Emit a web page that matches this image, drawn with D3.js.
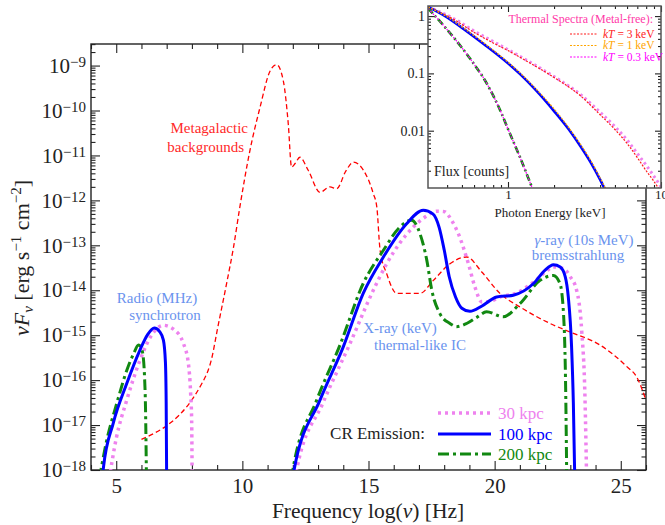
<!DOCTYPE html>
<html>
<head>
<meta charset="utf-8">
<script src="https://cdn.jsdelivr.net/npm/d3@7"></script>
<style>
  body { margin: 0; background: #fff; }
  svg { font-family: "Liberation Serif", "DejaVu Serif", serif; }
  .axis text { fill: #222; }
  .axis line { stroke: #222; }
</style>
</head>
<body>
<div id="chart"></div>
<script>
// ---- data (frequency in log10 Hz, flux as log10 nuF_nu) ----
const backgroundCurve = [[6.0,-17.32],[8.4,-16.07],[8.8,-15.48],[9.0,-14.9],[9.4,-13.78],[9.65,-13.04],[9.9,-12.15],
  [10.3,-10.89],[10.7,-9.93],[11.1,-9.12],[11.36,-8.98],[11.62,-9.33],[11.82,-10.3],[11.95,-11.26],[12.09,-11.18],
  [12.28,-11.04],[12.61,-11.33],[13.08,-11.82],[13.47,-11.7],[13.74,-11.74],[14.1,-11.35],[14.4,-11.15],[14.8,-11.33],
  [15.19,-11.85],[15.33,-12.15],[15.46,-13.11],[15.72,-13.63],[16.12,-14.07],[16.51,-14.07],[17.04,-14.07],
  [17.57,-13.78],[18.23,-13.41],[18.89,-13.26],[19.5,-13.6],[20.21,-14.07],[21.0,-14.37],[22.2,-14.74],
  [22.99,-14.93],[24.18,-15.22],[25.24,-15.7],[25.63,-15.93],[26.0,-16.45]];

const cr30Radio = [[4.72,-18.2],[5.0,-17.3],[5.42,-16.44],[5.94,-15.56],[6.4,-15.0],[6.87,-14.78],[7.3,-14.88],
  [7.66,-15.18],[7.86,-15.63],[7.95,-16.3],[7.99,-16.9],[8.01,-18.3]];
const cr100Radio = [[4.45,-18.2],[4.49,-17.96],[4.88,-16.96],[5.42,-16.07],[5.94,-15.33],[6.25,-14.98],[6.51,-14.84],
  [6.72,-14.92],[6.87,-15.11],[6.95,-15.6],[6.98,-16.5],[7.0,-18.3]];
const cr200Radio = [[4.33,-18.2],[4.6,-17.4],[5.02,-16.52],[5.42,-15.78],[5.7,-15.4],[5.88,-15.22],[6.0,-15.3],
  [6.07,-15.48],[6.12,-15.9],[6.16,-16.6],[6.2,-18.3]];

const cr30High = [[12.1,-18.2],[12.15,-18.0],[13.2,-16.5],[14.27,-15.18],[15.19,-14.0],[15.72,-13.41],[16.78,-12.59],
  [17.3,-12.35],[17.7,-12.24],[18.0,-12.25],[18.3,-12.45],[18.56,-12.74],[18.96,-13.41],[19.22,-13.93],[19.49,-14.26],
  [19.8,-14.25],[20.21,-14.15],[20.87,-14.06],[21.54,-13.82],[22.0,-13.6],[22.33,-13.48],[22.73,-13.52],[23.0,-13.7],
  [23.25,-14.0],[23.45,-14.89],[23.58,-16.37],[23.65,-18.3]];
const cr100High = [[12.0,-18.2],[12.05,-18.0],[13.08,-16.44],[14.0,-15.26],[14.79,-14.07],[15.59,-13.26],[16.51,-12.52],
  [17.17,-12.22],[17.55,-12.3],[17.8,-12.6],[18.0,-13.1],[18.2,-13.7],[18.45,-14.15],[18.7,-14.4],[19.02,-14.47],
  [19.5,-14.35],[20.08,-14.15],[20.74,-14.11],[21.54,-13.85],[22.0,-13.55],[22.33,-13.43],[22.6,-13.48],[22.8,-13.7],
  [22.92,-14.15],[23.05,-15.26],[23.12,-16.5],[23.18,-18.3]];
const cr200High = [[11.95,-18.2],[12.0,-18.0],[12.95,-16.44],[13.87,-15.22],[14.79,-13.85],[15.59,-13.11],[16.25,-12.59],
  [16.71,-12.44],[17.04,-12.74],[17.31,-13.33],[17.51,-14.0],[17.83,-14.52],[18.23,-14.74],[18.49,-14.81],[18.89,-14.74],
  [19.3,-14.6],[19.68,-14.48],[20.34,-14.59],[21.0,-14.3],[21.8,-13.78],[22.33,-13.67],[22.59,-13.85],[22.73,-14.52],
  [22.82,-16.37],[22.86,-18.3]];

const xMajorTicks = [5, 10, 15, 20, 25];
const yDecades = [-18, -17, -16, -15, -14, -13, -12, -11, -10, -9];

const legendLabels = ["30 kpc", "100 kpc", "200 kpc"];

// inset: photon energy [keV] vs counts
const thermal3keV = [[0.3,1.45],[0.45,0.85],[0.6,0.52],[0.8,0.34],[1.0,0.25],[1.5,0.135],[2.0,0.085],[3.0,0.04],
  [4.0,0.019],[5.0,0.0105],[6.0,0.006],[7.0,0.0034],[8.0,0.002],[9.0,0.0013],[10.0,0.00085]];
const thermal1keV = [[0.3,1.45],[0.4,0.97],[0.52,0.6],[0.7,0.335],[1.0,0.157],[1.2,0.102],[1.5,0.056],[2.0,0.024],
  [2.5,0.0112],[3.0,0.0056],[3.5,0.0029],[4.0,0.0015],[4.4,0.00092]];
const thermal03keV = [[0.3,1.37],[0.4,0.58],[0.5,0.28],[0.6,0.145],[0.7,0.079],[0.82,0.036],[0.9,0.021],[1.0,0.0107],
  [1.2,0.0034],[1.45,0.00095]];
const cr30Counts = [[0.3,1.45],[0.45,0.88],[0.6,0.55],[0.8,0.36],[1.0,0.26],[1.5,0.14],[2.0,0.088],[3.0,0.042],
  [4.0,0.021],[5.0,0.0118],[6.0,0.0069],[7.0,0.004],[8.0,0.0025],[9.0,0.0016],[10.0,0.00105]];
const cr100Counts = [[0.3,1.45],[0.4,0.95],[0.52,0.58],[0.7,0.32],[1.0,0.15],[1.2,0.097],[1.5,0.053],[2.0,0.022],
  [2.5,0.0105],[3.0,0.0052],[3.5,0.0027],[4.0,0.0014],[4.3,0.00095]];
const cr200Counts = [[0.3,1.37],[0.4,0.58],[0.5,0.28],[0.6,0.145],[0.7,0.079],[0.82,0.036],[0.9,0.021],[1.0,0.0107],
  [1.2,0.0034],[1.45,0.00095]];
const insetLegend = ["3 keV", "1 keV", "0.3 keV"];

const colors = { bg: "#ff0000", c30: "#ee82ee", c100: "#0000ff", c200: "#118811", note: "#6a93ee",
  t3: "#ff1a1a", t1: "#ffa500", t03: "#ff00ff", insetTitle: "#ff3aa8" };

const svg = d3.select("#chart").append("svg").attr("width", 665).attr("height", 525)
  .attr("font-family", "'Liberation Serif', 'DejaVu Serif', serif");

// ---------------- main panel ----------------
const frame = { left: 91, right: 646, top: 44, bottom: 470 };
const x = d3.scaleLinear().domain([4, 26]).range([frame.left, frame.right]);
const y = d3.scaleLog().domain([1e-18, Math.pow(10, -8.52)]).range([frame.bottom, frame.top]);

const yMinor = [];
yDecades.forEach(e => { for (let k = 2; k <= 9; k++) { const v = k * Math.pow(10, e); if (v < y.domain()[1]) yMinor.push(v); } });
const xMinor = d3.range(4, 27).filter(v => v % 5 !== 0);

svg.append("clipPath").attr("id", "mainClip").append("rect")
  .attr("x", frame.left).attr("y", frame.top)
  .attr("width", frame.right - frame.left).attr("height", frame.bottom - frame.top);

// ticks point inward; d3's default sans-serif font is dropped so labels use the serif face
const addAxis = (axis, tx, ty) => {
  const g = svg.append("g").attr("class", "axis").attr("transform", `translate(${tx},${ty})`).call(axis)
    .attr("font-family", null);
  g.select(".domain").remove();
  g.selectAll("line").attr("stroke-width", 1.1);
  return g;
};
const xAxisG = addAxis(d3.axisBottom(x).tickValues(xMajorTicks).tickSize(-9).tickPadding(8), 0, frame.bottom);
xAxisG.selectAll("text").attr("font-size", 21).attr("dy", "0.7em");
addAxis(d3.axisBottom(x).tickValues(xMinor).tickSize(-5).tickFormat(""), 0, frame.bottom);
addAxis(d3.axisTop(x).tickValues(xMajorTicks).tickSize(-9).tickFormat(""), 0, frame.top);
addAxis(d3.axisTop(x).tickValues(xMinor).tickSize(-5).tickFormat(""), 0, frame.top);

const yAxisG = addAxis(d3.axisLeft(y).tickValues(yDecades.map(e => Math.pow(10, e))).tickSize(-9).tickPadding(5), frame.left, 0);
yAxisG.selectAll("text").each(function(d) {
  const t = d3.select(this).text("").attr("font-size", 21);
  t.append("tspan").text("10");
  t.append("tspan").attr("dy", "-0.4em").attr("font-size", 15).text("\u2212" + Math.round(-Math.log10(d)));
});
addAxis(d3.axisLeft(y).tickValues(yMinor).tickSize(-4.5).tickFormat(""), frame.left, 0);
addAxis(d3.axisRight(y).tickValues(yDecades.map(e => Math.pow(10, e))).tickSize(-9).tickFormat(""), frame.right, 0);
addAxis(d3.axisRight(y).tickValues(yMinor).tickSize(-4.5).tickFormat(""), frame.right, 0);

svg.append("rect").attr("x", frame.left).attr("y", frame.top)
  .attr("width", frame.right - frame.left).attr("height", frame.bottom - frame.top)
  .attr("fill", "none").attr("stroke", "#222").attr("stroke-width", 1.4);

const line = d3.line().x(d => x(d[0])).y(d => y(Math.pow(10, d[1]))).curve(d3.curveMonotoneX);
const plot = svg.append("g").attr("clip-path", "url(#mainClip)");

plot.append("path").datum(backgroundCurve).attr("d", line)
  .attr("fill", "none").attr("stroke", colors.bg).attr("stroke-width", 1.3).attr("stroke-dasharray", "5,3");

const styles = {
  c30: { stroke: colors.c30, width: 3.5, dash: "3,4" },
  c100: { stroke: colors.c100, width: 3, dash: null },
  c200: { stroke: colors.c200, width: 3, dash: "11,4,3,4" }
};
[[cr30Radio, "c30"], [cr30High, "c30"], [cr200Radio, "c200"], [cr200High, "c200"], [cr100Radio, "c100"], [cr100High, "c100"]]
  .forEach(([data, key]) => {
    plot.append("path").datum(data).attr("d", line)
      .attr("fill", "none").attr("stroke", styles[key].stroke).attr("stroke-width", styles[key].width)
      .attr("stroke-dasharray", styles[key].dash);
  });

// annotations
const note = (lines, xx, yy, color, anchor, size) => {
  lines.forEach((s, i) => svg.append("text").attr("x", xx[i]).attr("y", yy[i])
    .attr("fill", color).attr("font-size", size).attr("text-anchor", anchor).text(s));
};
note(["Metagalactic", "backgrounds"], [248, 244], [133, 152], "#ff2a2a", "end", 15);
note(["Radio (MHz)", "synchrotron"], [157, 165], [303, 320], colors.note, "middle", 15);
note(["X-ray (keV)", "thermal-like IC"], [400, 420], [333, 350], colors.note, "middle", 15);
svg.append("text").attr("x", 584).attr("y", 245).attr("fill", colors.note).attr("font-size", 15)
  .attr("text-anchor", "middle").html('<tspan font-style="italic">\u03b3</tspan>-ray (10s MeV)');
note(["bremsstrahlung"], [578], [260], colors.note, "middle", 15);

// axis titles
svg.append("text").attr("x", 368).attr("y", 518).attr("text-anchor", "middle").attr("font-size", 21.5).attr("fill", "#222")
  .html('Frequency log(<tspan font-style="italic">\u03bd</tspan>) [Hz]');
svg.append("text").attr("transform", "translate(29,258) rotate(-90)").attr("text-anchor", "middle")
  .attr("font-size", 22).attr("fill", "#222")
  .html('<tspan font-style="italic">\u03bdF</tspan><tspan font-style="italic" font-size="15" dy="4">\u03bd</tspan>' +
        '<tspan dy="-4"> [erg s</tspan><tspan font-size="15" dy="-8">\u22121</tspan>' +
        '<tspan dy="8"> cm</tspan><tspan font-size="15" dy="-8">\u22122</tspan><tspan dy="8">]</tspan>');

// legend
const legY = [413, 434, 454];
const legKeys = ["c30", "c100", "c200"];
svg.append("text").attr("x", 425).attr("y", 439).attr("text-anchor", "end").attr("font-size", 17)
  .attr("fill", "#222").text("CR Emission:");
legKeys.forEach((k, i) => {
  svg.append("line").attr("x1", 438).attr("x2", 491).attr("y1", legY[i]).attr("y2", legY[i])
    .attr("stroke", styles[k].stroke).attr("stroke-width", styles[k].width).attr("stroke-dasharray", styles[k].dash);
  svg.append("text").attr("x", 498).attr("y", legY[i] + 6).attr("font-size", 17)
    .attr("fill", styles[k].stroke).text(legendLabels[i]);
});

// ---------------- inset ----------------
const inset = { left: 428, right: 661, top: 6, bottom: 188 };
const ix = d3.scaleLog().domain([0.3, 10]).range([inset.left, inset.right]);
const iy = d3.scaleLog().domain([1e-3, 1.5]).range([inset.bottom, inset.top]);

svg.append("rect").attr("x", inset.left).attr("y", inset.top)
  .attr("width", inset.right - inset.left).attr("height", inset.bottom - inset.top).attr("fill", "#fff");
svg.append("clipPath").attr("id", "insetClip").append("rect")
  .attr("x", inset.left).attr("y", inset.top)
  .attr("width", inset.right - inset.left).attr("height", inset.bottom - inset.top);

const ixMajor = [1, 10];
const ixMinor = [0.4, 0.5, 0.6, 0.7, 0.8, 0.9, 2, 3, 4, 5, 6, 7, 8, 9];
const iyMajor = [0.01, 0.1, 1];
const iyMinor = [];
[0.001, 0.01, 0.1].forEach(b => { for (let k = 2; k <= 9; k++) iyMinor.push(k * b); });

const ixAxisG = addAxis(d3.axisBottom(ix).tickValues(ixMajor).tickSize(-6).tickPadding(2).tickFormat(d3.format("")), 0, inset.bottom);
ixAxisG.selectAll("text").attr("font-size", 13);
addAxis(d3.axisBottom(ix).tickValues(ixMinor).tickSize(-3).tickFormat(""), 0, inset.bottom);
addAxis(d3.axisTop(ix).tickValues(ixMajor).tickSize(-6).tickFormat(""), 0, inset.top);
addAxis(d3.axisTop(ix).tickValues(ixMinor).tickSize(-3).tickFormat(""), 0, inset.top);
const iyAxisG = addAxis(d3.axisLeft(iy).tickValues(iyMajor).tickSize(-6).tickPadding(3).tickFormat(d3.format("")), inset.left, 0);
iyAxisG.selectAll("text").attr("font-size", 14);
addAxis(d3.axisLeft(iy).tickValues(iyMinor).tickSize(-3).tickFormat(""), inset.left, 0);
addAxis(d3.axisRight(iy).tickValues(iyMajor).tickSize(-6).tickFormat(""), inset.right, 0);
addAxis(d3.axisRight(iy).tickValues(iyMinor).tickSize(-3).tickFormat(""), inset.right, 0);

const iline = d3.line().x(d => ix(d[0])).y(d => iy(d[1])).curve(d3.curveMonotoneX);
const iplot = svg.append("g").attr("clip-path", "url(#insetClip)");
[[cr30Counts, colors.c30, 3, "2.5,3"], [cr100Counts, colors.c100, 2.6, null], [cr200Counts, colors.c200, 2.6, "7,3,2,3"],
 [thermal3keV, colors.t3, 1.2, "2,1.5"], [thermal1keV, colors.t1, 1.2, "2,1.5"], [thermal03keV, colors.t03, 1.2, "2,1.5"]]
  .forEach(([data, c, w, dash]) => {
    iplot.append("path").datum(data).attr("d", iline).attr("fill", "none")
      .attr("stroke", c).attr("stroke-width", w).attr("stroke-dasharray", dash);
  });

svg.append("rect").attr("x", inset.left).attr("y", inset.top)
  .attr("width", inset.right - inset.left).attr("height", inset.bottom - inset.top)
  .attr("fill", "none").attr("stroke", "#555").attr("stroke-width", 1.5);

svg.append("text").attr("x", 653).attr("y", 23).attr("text-anchor", "end").attr("font-size", 12)
  .attr("fill", colors.insetTitle).text("Thermal Spectra (Metal-free):");
const insetColors = [colors.t3, colors.t1, colors.t03];
insetLegend.forEach((s, i) => {
  const ly = 34 + i * 11.5;
  svg.append("line").attr("x1", 570).attr("x2", 598).attr("y1", ly).attr("y2", ly)
    .attr("stroke", insetColors[i]).attr("stroke-width", 1.2).attr("stroke-dasharray", "2,1.5");
  svg.append("text").attr("x", 603).attr("y", ly + 3.5).attr("font-size", 11.5).attr("fill", insetColors[i])
    .html(`<tspan font-style="italic">kT</tspan> = ${s}`);
});
svg.append("text").attr("x", 434).attr("y", 176).attr("font-size", 14).attr("fill", "#222").text("Flux [counts]");
svg.append("text").attr("x", 550).attr("y", 217).attr("text-anchor", "middle").attr("font-size", 13)
  .attr("fill", "#222").text("Photon Energy [keV]");
</script>
</body>
</html>
